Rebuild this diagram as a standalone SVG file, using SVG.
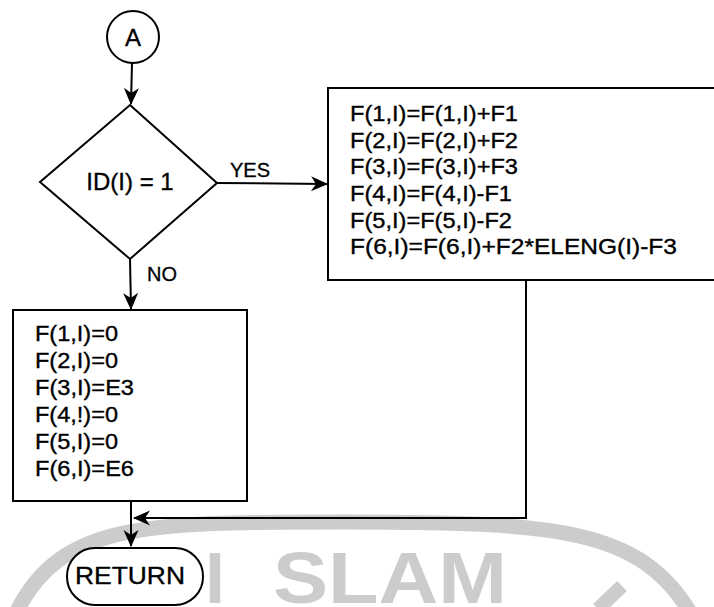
<svg xmlns="http://www.w3.org/2000/svg" width="714" height="607" viewBox="0 0 714 607">
<style>
  .shape { fill: #fff; stroke: #000; stroke-width: 2; }
  .line { fill: none; stroke: #000; stroke-width: 2; }
  .txt { font-family: "Liberation Sans", Arial, sans-serif; font-size: 22px; fill: #000; stroke: #000; stroke-width: 0.35; }
  .lbl { font-family: "Liberation Sans", Arial, sans-serif; font-size: 20px; fill: #000; stroke: #000; stroke-width: 0.3; }
  .wm { font-family: "Liberation Sans", Arial, sans-serif; font-size: 72px; font-weight: bold; fill: #cccccc; }
</style>
<defs>
  <marker id="ah" viewBox="-17 -8 19 16" refX="0" refY="0" markerWidth="19" markerHeight="16" markerUnits="userSpaceOnUse" orient="auto">
    <path d="M1,0 L-16,-7.5 L-11,0 L-16,7.5 Z" fill="#000"/>
  </marker>
</defs>
<rect width="714" height="607" fill="#fff"/>

<g id="watermark">
  <path d="M15,615 C60,520 150,522 350,522 C560,522 640,530 690,612" fill="none" stroke="#cccccc" stroke-width="15"/>
  <line x1="598" y1="609" x2="622" y2="586" stroke="#cccccc" stroke-width="14"/>
  <text class="wm" x="205" y="603">I</text>
  <text class="wm" x="273" y="603" textLength="234" lengthAdjust="spacingAndGlyphs">SLAM</text>
</g>

<g id="connectors">
  <line class="line" x1="132" y1="63" x2="131" y2="104" marker-end="url(#ah)"/>
  <line class="line" x1="217" y1="183" x2="327" y2="184" marker-end="url(#ah)"/>
  <line class="line" x1="130" y1="259" x2="131" y2="309" marker-end="url(#ah)"/>
  <line class="line" x1="131" y1="501" x2="131" y2="546" marker-end="url(#ah)"/>
  <polyline class="line" points="526,280 526,518 134,518" marker-end="url(#ah)"/>
  <text class="lbl" x="230" y="177">YES</text>
  <text class="lbl" x="147" y="281">NO</text>
</g>

<g id="start">
  <circle class="shape" cx="133" cy="37" r="26"/>
  <text class="txt" x="133" y="46" text-anchor="middle" style="font-size:24px">A</text>
</g>

<g id="decision">
  <polygon class="shape" points="130,105 217,183 130,259 40,182" stroke-width="2.5"/>
  <text class="txt" x="130" y="190" text-anchor="middle" style="font-size:24px">ID(I) = 1</text>
</g>

<g id="yes-box">
  <rect class="shape" x="328" y="88" width="400" height="192"/>
  <text class="txt" x="350" y="121" textLength="168" lengthAdjust="spacingAndGlyphs">F(1,I)=F(1,I)+F1</text>
  <text class="txt" x="350" y="148" textLength="168" lengthAdjust="spacingAndGlyphs">F(2,I)=F(2,I)+F2</text>
  <text class="txt" x="350" y="174" textLength="168" lengthAdjust="spacingAndGlyphs">F(3,I)=F(3,I)+F3</text>
  <text class="txt" x="350" y="201" textLength="162" lengthAdjust="spacingAndGlyphs">F(4,I)=F(4,I)-F1</text>
  <text class="txt" x="350" y="228" textLength="162" lengthAdjust="spacingAndGlyphs">F(5,I)=F(5,I)-F2</text>
  <text class="txt" x="350" y="254" textLength="327" lengthAdjust="spacingAndGlyphs">F(6,I)=F(6,I)+F2*ELENG(I)-F3</text>
</g>

<g id="no-box">
  <rect class="shape" x="13" y="310" width="234" height="191"/>
  <text class="txt" x="35" y="341" textLength="83" lengthAdjust="spacingAndGlyphs">F(1,I)=0</text>
  <text class="txt" x="35" y="368" textLength="83" lengthAdjust="spacingAndGlyphs">F(2,I)=0</text>
  <text class="txt" x="35" y="395" textLength="99" lengthAdjust="spacingAndGlyphs">F(3,I)=E3</text>
  <text class="txt" x="35" y="422" textLength="83" lengthAdjust="spacingAndGlyphs">F(4,!)=0</text>
  <text class="txt" x="35" y="449" textLength="83" lengthAdjust="spacingAndGlyphs">F(5,I)=0</text>
  <text class="txt" x="35" y="476" textLength="99" lengthAdjust="spacingAndGlyphs">F(6,I)=E6</text>
</g>

<g id="return">
  <rect class="shape" x="67" y="548" width="136" height="57" rx="28" ry="28"/>
  <text class="txt" x="75" y="584" style="font-size:24px" textLength="110" lengthAdjust="spacingAndGlyphs">RETURN</text>
</g>
</svg>
